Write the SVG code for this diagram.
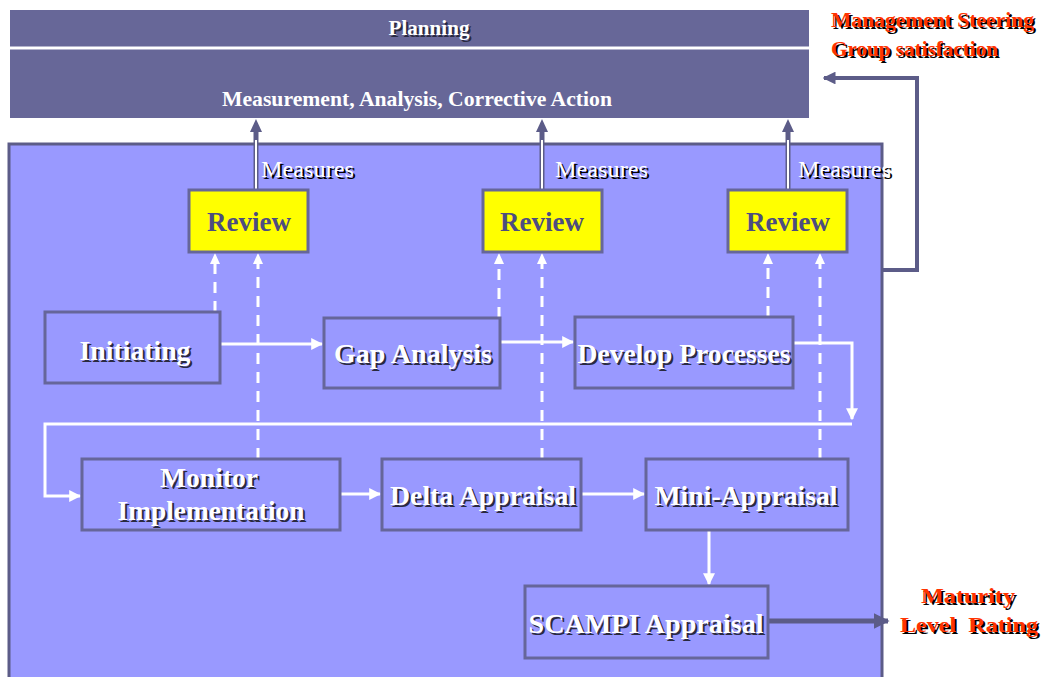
<svg xmlns="http://www.w3.org/2000/svg" width="1042" height="677" viewBox="0 0 1042 677">
<defs>
<style>
.bar{fill:#676798}
.panel{fill:#9999FF;stroke:#5C5C88;stroke-width:3}
.node{fill:#9999FF;stroke:#66669A;stroke-width:3}
.rev{fill:#FFFF00;stroke:#66669A;stroke-width:3}
text{font-family:'Liberation Serif','Times New Roman',serif}
.t{font-weight:bold;text-anchor:middle}
.nt{font-size:27px;fill:#FFFFFF}
.sh{fill:#2A2A40}
.rt{font-size:27px;fill:#4D4D80}
.meas{font-size:24px;fill:#FFFFFF}
.msh{font-size:24px;fill:#000000}
.red{font-weight:bold;font-size:22px;fill:#FF3300}
.redsh{font-weight:bold;font-size:22px;fill:#000000}
.wl{fill:none;stroke:#FFFFFF;stroke-width:3}
.dl{fill:none;stroke:#FFFFFF;stroke-width:3;stroke-dasharray:11 8}
.dk{fill:none;stroke:#5C5C88;stroke-width:5}
</style>
<marker id="wa" viewBox="0 0 10 10" refX="9" refY="5" markerWidth="4" markerHeight="4" orient="auto" markerUnits="strokeWidth"><path d="M0,0 L10,5 L0,10 z" fill="#FFFFFF"/></marker>
<marker id="da" viewBox="0 0 10 10" refX="9" refY="5" markerWidth="3.2" markerHeight="3.2" orient="auto" markerUnits="strokeWidth"><path d="M0,0 L10,5 L0,10 z" fill="#5C5C88"/></marker>
</defs>
<rect width="1042" height="677" fill="#FFFFFF"/>

<g id="planning">
<rect class="bar" x="10" y="10" width="799" height="108"/>
<line x1="10" y1="48" x2="809" y2="48" stroke="#FFFFFF" stroke-width="3"/>
<text class="t sh" x="431" y="37" font-size="22" textLength="81" lengthAdjust="spacingAndGlyphs">Planning</text>
<text class="t" x="429" y="35" font-size="22" fill="#FFFFFF" textLength="81" lengthAdjust="spacingAndGlyphs">Planning</text>
<text class="t" x="417" y="106" font-size="21" fill="#FFFFFF" textLength="390" lengthAdjust="spacingAndGlyphs">Measurement, Analysis, Corrective Action</text>
</g>

<g id="panel">
<rect class="panel" x="9" y="144" width="873" height="545"/>
</g>

<g id="connectors">
<path d="M882,270 L917,270 L917,78 L824,78" fill="none" stroke="#5C5C88" stroke-width="4" marker-end="url(#da)"/>
<line class="dk" x1="256" y1="190" x2="256" y2="128"/>
<line x1="256" y1="190" x2="256" y2="140" stroke="#FFFFFF" stroke-width="2"/>
<path d="M256,119 L250,132 L262,132 z" fill="#5C5C88"/>
<line class="dk" x1="542" y1="190" x2="542" y2="128"/>
<line x1="542" y1="190" x2="542" y2="140" stroke="#FFFFFF" stroke-width="2"/>
<path d="M542,119 L536,132 L548,132 z" fill="#5C5C88"/>
<line class="dk" x1="788" y1="190" x2="788" y2="128"/>
<line x1="788" y1="190" x2="788" y2="140" stroke="#FFFFFF" stroke-width="2"/>
<path d="M788,119 L782,132 L794,132 z" fill="#5C5C88"/>
<path class="dl" d="M215,312 L215,262" stroke-dasharray="12 6 3 6"/>
<path d="M215,253 L210,264 L220,264 z" fill="#FFFFFF"/>
<path class="dl" d="M258,459 L258,262"/>
<path d="M258,253 L253,264 L263,264 z" fill="#FFFFFF"/>
<path class="dl" d="M499,318 L499,262"/>
<path d="M499,253 L494,264 L504,264 z" fill="#FFFFFF"/>
<path class="dl" d="M542,459 L542,262"/>
<path d="M542,253 L537,264 L547,264 z" fill="#FFFFFF"/>
<path class="dl" d="M768,317 L768,262"/>
<path d="M768,253 L763,264 L773,264 z" fill="#FFFFFF"/>
<path class="dl" d="M820,459 L820,262"/>
<path d="M820,253 L815,264 L825,264 z" fill="#FFFFFF"/>
<line class="wl" x1="221" y1="344" x2="322" y2="344" marker-end="url(#wa)"/>
<line class="wl" x1="501" y1="342" x2="573" y2="342" marker-end="url(#wa)"/>
<path class="wl" d="M794,343 L852,343 L852,419" marker-end="url(#wa)"/>
<path class="wl" d="M852,424 L45,424 L45,496 L80,496" marker-end="url(#wa)"/>
<line class="wl" x1="341" y1="494" x2="380" y2="494" marker-end="url(#wa)"/>
<line class="wl" x1="582" y1="494" x2="644" y2="494" marker-end="url(#wa)"/>
<line class="wl" x1="709" y1="531" x2="709" y2="584" marker-end="url(#wa)"/>
<line x1="769" y1="621" x2="888" y2="621" stroke="#5C5C88" stroke-width="5" marker-end="url(#da)"/>
</g>

<g id="measures-labels">
<text class="msh" x="263" y="179" textLength="93" lengthAdjust="spacingAndGlyphs">Measures</text>
<text class="meas" x="261" y="177" textLength="93" lengthAdjust="spacingAndGlyphs">Measures</text>
<text class="msh" x="557" y="179" textLength="93" lengthAdjust="spacingAndGlyphs">Measures</text>
<text class="meas" x="555" y="177" textLength="93" lengthAdjust="spacingAndGlyphs">Measures</text>
<text class="msh" x="800" y="179" textLength="93" lengthAdjust="spacingAndGlyphs">Measures</text>
<text class="meas" x="798" y="177" textLength="93" lengthAdjust="spacingAndGlyphs">Measures</text>
</g>

<g id="review1">
<rect class="rev" x="189" y="190" width="119" height="62"/>
<text class="t rt" x="249" y="231" textLength="84" lengthAdjust="spacingAndGlyphs">Review</text>
</g>
<g id="review2">
<rect class="rev" x="483" y="190" width="119" height="62"/>
<text class="t rt" x="542" y="231" textLength="84" lengthAdjust="spacingAndGlyphs">Review</text>
</g>
<g id="review3">
<rect class="rev" x="728" y="190" width="119" height="62"/>
<text class="t rt" x="788" y="231" textLength="84" lengthAdjust="spacingAndGlyphs">Review</text>
</g>

<g id="initiating">
<rect class="node" x="45" y="312" width="175" height="71"/>
<text class="t nt sh" x="137" y="362" textLength="111" lengthAdjust="spacingAndGlyphs">Initiating</text>
<text class="t nt" x="135" y="360" textLength="111" lengthAdjust="spacingAndGlyphs">Initiating</text>
</g>
<g id="gap-analysis">
<rect class="node" x="324" y="318" width="176" height="70"/>
<text class="t nt sh" x="415" y="365" textLength="158" lengthAdjust="spacingAndGlyphs">Gap Analysis</text>
<text class="t nt" x="413" y="363" textLength="158" lengthAdjust="spacingAndGlyphs">Gap Analysis</text>
</g>
<g id="develop-processes">
<rect class="node" x="575" y="317" width="218" height="71"/>
<text class="t nt sh" x="686" y="365" textLength="213" lengthAdjust="spacingAndGlyphs">Develop Processes</text>
<text class="t nt" x="684" y="363" textLength="213" lengthAdjust="spacingAndGlyphs">Develop Processes</text>
</g>
<g id="monitor-implementation">
<rect class="node" x="82" y="459" width="258" height="71"/>
<text class="t nt sh" x="211" y="489" textLength="98" lengthAdjust="spacingAndGlyphs">Monitor</text>
<text class="t nt" x="209" y="487" textLength="98" lengthAdjust="spacingAndGlyphs">Monitor</text>
<text class="t nt sh" x="213" y="522" textLength="187" lengthAdjust="spacingAndGlyphs">Implementation</text>
<text class="t nt" x="211" y="520" textLength="187" lengthAdjust="spacingAndGlyphs">Implementation</text>
</g>
<g id="delta-appraisal">
<rect class="node" x="382" y="459" width="199" height="71"/>
<text class="t nt sh" x="485" y="507" textLength="186" lengthAdjust="spacingAndGlyphs">Delta Appraisal</text>
<text class="t nt" x="483" y="505" textLength="186" lengthAdjust="spacingAndGlyphs">Delta Appraisal</text>
</g>
<g id="mini-appraisal">
<rect class="node" x="646" y="459" width="202" height="71"/>
<text class="t nt sh" x="748" y="507" textLength="183" lengthAdjust="spacingAndGlyphs">Mini-Appraisal</text>
<text class="t nt" x="746" y="505" textLength="183" lengthAdjust="spacingAndGlyphs">Mini-Appraisal</text>
</g>
<g id="scampi-appraisal">
<rect class="node" x="525" y="586" width="243" height="72"/>
<text class="t nt sh" x="648" y="635" textLength="235" lengthAdjust="spacingAndGlyphs">SCAMPI Appraisal</text>
<text class="t nt" x="646" y="633" textLength="235" lengthAdjust="spacingAndGlyphs">SCAMPI Appraisal</text>
</g>

<g id="management-label">
<text class="redsh" x="833" y="29" textLength="203" lengthAdjust="spacingAndGlyphs">Management Steering</text>
<text class="red" x="831" y="27" textLength="203" lengthAdjust="spacingAndGlyphs">Management Steering</text>
<text class="redsh" x="833" y="58" textLength="167" lengthAdjust="spacingAndGlyphs">Group satisfaction</text>
<text class="red" x="831" y="56" textLength="167" lengthAdjust="spacingAndGlyphs">Group satisfaction</text>
</g>
<g id="maturity-label">
<text class="redsh" x="923" y="605" textLength="94" lengthAdjust="spacingAndGlyphs">Maturity</text>
<text class="red" x="921" y="603" textLength="94" lengthAdjust="spacingAndGlyphs">Maturity</text>
<text class="redsh" x="902" y="634" textLength="138" lengthAdjust="spacingAndGlyphs" xml:space="preserve">Level  Rating</text>
<text class="red" x="900" y="632" textLength="138" lengthAdjust="spacingAndGlyphs" xml:space="preserve">Level  Rating</text>
</g>
</svg>
